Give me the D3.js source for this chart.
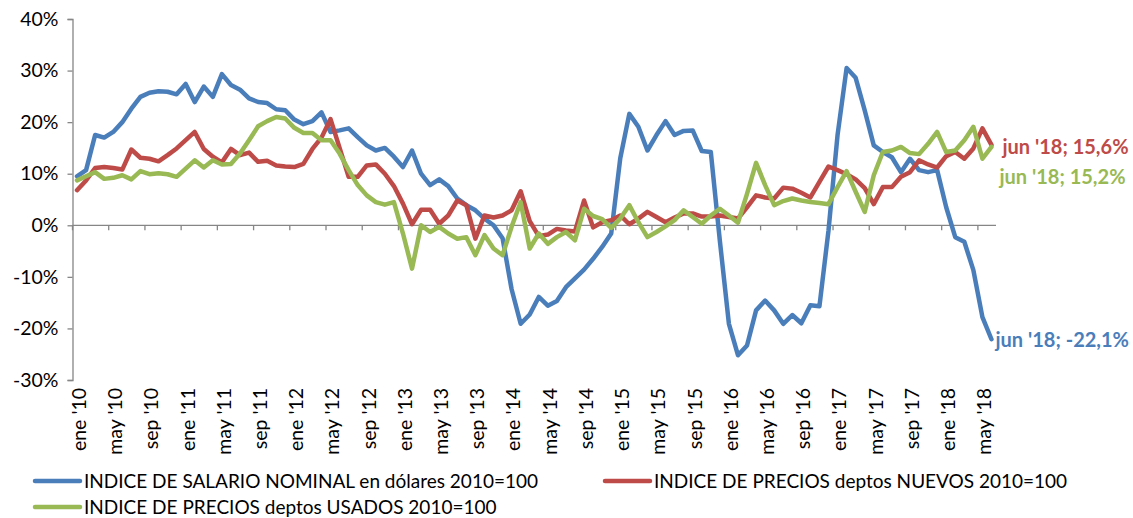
<!DOCTYPE html>
<html>
<head>
<meta charset="utf-8">
<script src="https://cdn.jsdelivr.net/npm/d3@7"></script>
<style>
  body { margin: 0; background: #fff; }
  text { font-family: Lato, "Open Sans", sans-serif; fill: #000; }
</style>
</head>
<body>
<svg id="chart" width="1133" height="518"></svg>
<script>
// months ene '10 .. jun '18
var years = ["10", "11", "12", "13", "14", "15", "16", "17", "18"];
var monthNames = ["ene", "feb", "mar", "abr", "may", "jun", "jul", "ago", "sep", "oct", "nov", "dic"];
var categories = [];
years.forEach(function(yy) {
  monthNames.forEach(function(m) { categories.push(m + " '" + yy); });
});
categories = categories.slice(0, 102);

var yTicks = [-30, -20, -10, 0, 10, 20, 30, 40];

// variación anual %
var salario = [
  9.5, 10.7, 17.5, 17.0, 18.1, 20.0, 22.6, 24.9, 25.7, 26.0, 25.9, 25.4,
  27.4, 23.9, 26.9, 24.9, 29.3, 27.2, 26.3, 24.6, 23.9, 23.7, 22.5, 22.3,
  20.5, 19.6, 20.2, 21.9, 18.1, 18.4, 18.8, 17.1, 15.5, 14.5, 15.0, 13.3,
  11.3, 14.5, 10.0, 7.8, 8.9, 7.6, 5.2, 3.9, 2.9, 1.3, 0.0, -2.5,
  -12.4, -19.1, -17.3, -13.9, -15.6, -14.7, -12.0, -10.3, -8.6, -6.5, -4.2, -1.6,
  13.0, 21.6, 19.1, 14.5, 17.5, 20.2, 17.5, 18.3, 18.4, 14.4, 14.2, -3.0,
  -19.1, -25.2, -23.3, -16.5, -14.6, -16.5, -19.1, -17.4, -19.0, -15.5, -15.7, -1.0,
  17.5, 30.5, 28.6, 22.3, 15.5, 14.2, 13.2, 10.3, 12.9, 10.7, 10.3, 10.7,
  3.5, -2.3, -3.2, -8.7, -17.8, -22.1
];
var nuevos = [
  6.8, 8.7, 11.1, 11.3, 11.1, 10.8, 14.7, 13.1, 12.9, 12.4, 13.6, 14.9,
  16.5, 18.1, 14.8, 13.3, 12.2, 14.8, 13.6, 14.1, 12.3, 12.5, 11.6, 11.4,
  11.3, 11.9, 14.8, 17.0, 20.6, 15.0, 9.4, 9.4, 11.6, 11.8, 10.0, 7.6,
  4.2, 0.2, 3.0, 3.0, 0.3, 1.9, 4.8, 3.9, -2.6, 1.9, 1.5, 1.9,
  2.9, 6.6, 0.8, -2.1, -1.8, -0.7, -1.0, -1.2, 4.8, -0.4, 0.6, 1.0,
  1.9, 0.2, 1.3, 2.6, 1.6, 0.6, 1.5, 2.3, 2.3, 1.7, 1.7, 1.9,
  1.6, 1.3, 3.5, 5.8, 5.4, 5.2, 7.3, 7.1, 6.3, 5.4, 8.4, 11.4,
  10.7, 9.9, 8.9, 7.2, 4.1, 7.4, 7.4, 9.4, 10.3, 12.6, 11.8, 11.2,
  13.4, 14.2, 12.9, 14.9, 18.8, 15.6
];
var usados = [
  8.7, 9.5, 10.3, 9.0, 9.2, 9.7, 8.9, 10.5, 9.9, 10.1, 9.9, 9.4,
  11.0, 12.6, 11.2, 12.6, 11.8, 11.9, 13.9, 16.5, 19.2, 20.2, 21.0, 20.7,
  18.9, 17.9, 17.9, 16.5, 16.5, 13.9, 10.7, 7.8, 5.8, 4.5, 4.0, 4.5,
  -1.6, -8.4, 0.0, -1.3, -0.3, -1.6, -2.6, -2.3, -5.8, -1.9, -4.5, -5.8,
  -0.3, 4.5, -4.5, -1.6, -3.6, -2.3, -1.3, -2.9, 3.2, 1.8, 1.2, -0.5,
  1.3, 3.9, 0.6, -2.3, -1.3, -0.2, 1.0, 2.9, 1.6, 0.3, 1.9, 3.2,
  1.9, 0.5, 6.1, 12.1, 7.8, 3.9, 4.7, 5.2, 4.8, 4.5, 4.3, 4.1,
  7.4, 10.5, 6.5, 2.6, 9.7, 14.2, 14.5, 15.2, 14.0, 13.8, 15.8, 18.1,
  14.2, 14.5, 16.5, 19.1, 12.9, 15.2
];

var series = [
  { name: "INDICE DE SALARIO NOMINAL en dólares 2010=100", values: salario, color: "#4a7ebb",
    label: "jun '18; -22,1%", dx: 4, dy: 1, lx: 33, ly: 481 },
  { name: "INDICE DE PRECIOS deptos NUEVOS 2010=100", values: nuevos, color: "#be4b48",
    label: "jun '18; 15,6%", dx: 11, dy: 2, lx: 603, ly: 481 },
  { name: "INDICE DE PRECIOS deptos USADOS 2010=100", values: usados, color: "#98b954",
    label: "jun '18; 15,2%", dx: 8, dy: 30, lx: 33, ly: 507 }
];

var svg = d3.select("#chart");
var axisColor = "#868686";

var x = d3.scaleBand().domain(categories).range([72.5, 996]).padding(0);
var y = d3.scaleLinear().domain([-30, 40]).range([380, 19]);
var cx = function(i) { return x(categories[i]) + x.bandwidth() / 2; };

// y axis
var yAxis = svg.append("g")
  .attr("transform", "translate(" + x.range()[0] + ",0)")
  .call(d3.axisLeft(y).tickValues(yTicks).tickSize(5).tickPadding(9)
    .tickFormat(function(d) { return d + "%"; }));
yAxis.selectAll("path, line").attr("stroke", axisColor).attr("stroke-width", 1.3);
yAxis.selectAll("text").style("font-size", "19.5px").attr("font-family", null);

// x axis on the zero line
var xg = svg.append("g");
xg.append("line")
  .attr("x1", x.range()[0]).attr("x2", x.range()[1])
  .attr("y1", y(0)).attr("y2", y(0))
  .attr("stroke", axisColor).attr("stroke-width", 1.3);
var tickCats = categories.filter(function(d, i) { return i % 4 === 0; });
xg.selectAll("line.tick").data(tickCats).enter().append("line")
  .attr("class", "tick")
  .attr("x1", function(d) { return x(d); }).attr("x2", function(d) { return x(d); })
  .attr("y1", y(0)).attr("y2", y(0) + 5)
  .attr("stroke", axisColor).attr("stroke-width", 1.3);
xg.selectAll("text").data(tickCats).enter().append("text")
  .attr("transform", function(d) {
    return "translate(" + (x(d) + x.bandwidth() / 2 + 2) + ",388) rotate(-90)";
  })
  .attr("text-anchor", "end")
  .attr("dy", "0.35em")
  .style("font-size", "19.5px")
  .text(function(d) { return d; });

// lines
var line = d3.line()
  .x(function(d, i) { return cx(i); })
  .y(function(d) { return y(d); });

series.forEach(function(s) {
  svg.append("path")
    .datum(s.values)
    .attr("fill", "none")
    .attr("stroke", s.color)
    .attr("stroke-width", 4.5)
    .attr("stroke-linejoin", "round")
    .attr("stroke-linecap", "round")
    .attr("d", line);
});

// end labels
series.forEach(function(s) {
  var n = s.values.length - 1;
  svg.append("text")
    .attr("x", cx(n) + s.dx)
    .attr("y", y(s.values[n]) + s.dy)
    .attr("dy", "0.35em")
    .style("font-size", "20px")
    .style("font-weight", "bold")
    .style("fill", s.color)
    .text(s.label);
});

// legend
var leg = svg.append("g");
series.forEach(function(s) {
  leg.append("line")
    .attr("x1", s.lx + 2).attr("x2", s.lx + 47)
    .attr("y1", s.ly).attr("y2", s.ly)
    .attr("stroke", s.color).attr("stroke-width", 4.5)
    .attr("stroke-linecap", "round");
  leg.append("text")
    .attr("x", s.lx + 51).attr("y", s.ly)
    .attr("dy", "0.35em")
    .style("font-size", "19px")
    .text(s.name);
});
</script>
</body>
</html>
